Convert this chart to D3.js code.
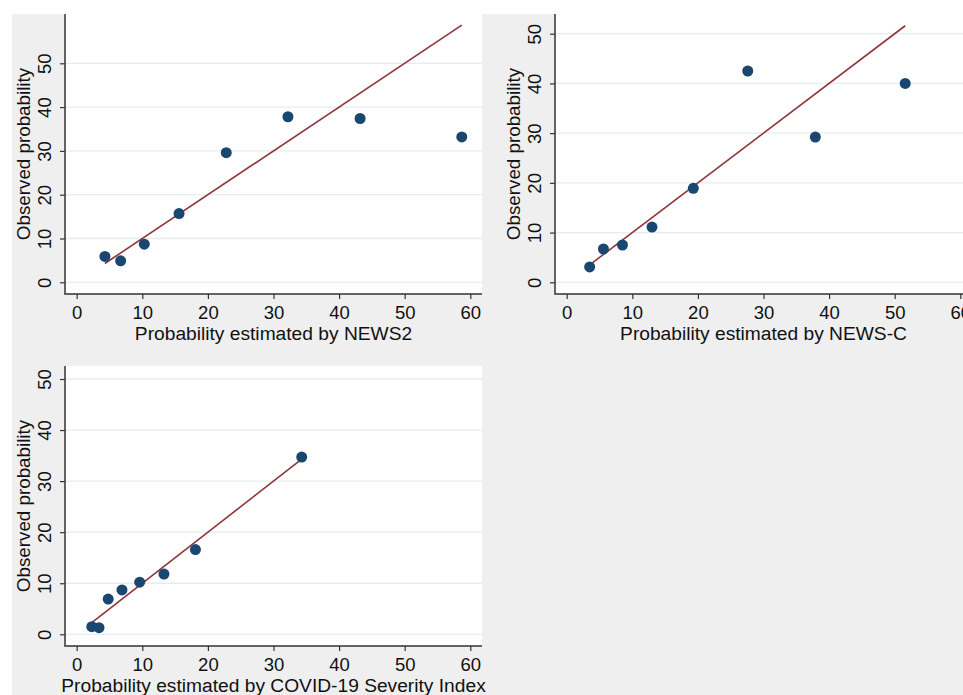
<!DOCTYPE html>
<html>
<head>
<meta charset="utf-8">
<script src="https://cdn.jsdelivr.net/npm/d3@7"></script>
<style>
  body { margin: 0; background: #fff; }
  svg { display: block; font-family: "Liberation Sans", Arial, sans-serif; }
</style>
</head>
<body>
<svg width="963" height="695"></svg>
<script>
// observed vs estimated probability (%)
var news2X = [4.3, 6.7, 10.3, 15.6, 22.8, 32.2, 43.2, 58.7];
var news2Y = [5.9, 4.9, 8.7, 15.7, 29.6, 37.8, 37.4, 33.2];
var newscX = [3.5, 5.6, 8.5, 13.0, 19.3, 27.6, 37.9, 51.6];
var newscY = [3.1, 6.7, 7.5, 11.1, 18.9, 42.5, 29.2, 40.0];
var csiX = [2.3, 3.4, 4.8, 6.9, 9.6, 13.3, 18.1, 34.3];
var csiY = [1.5, 1.3, 6.9, 8.7, 10.2, 11.8, 16.6, 34.7];

var xTicks = [0, 10, 20, 30, 40, 50, 60];
var yTicks = [0, 10, 20, 30, 40, 50];

var xTitles = [
  "Probability estimated by NEWS2",
  "Probability estimated by NEWS-C",
  "Probability estimated by COVID-19 Severity Index"
];
var yTitle = "Observed probability";

var svg = d3.select("svg");

// grey graph region behind all three panels
svg.append("rect")
  .attr("x", 12).attr("y", 14)
  .attr("width", 951).attr("height", 681)
  .attr("fill", "#efefef");

// plot boxes: left, top, pixel row of y=50
var panels = [
  { xs: news2X, ys: news2Y, title: xTitles[0], left: 65, top: 14, y50: 49.3 },
  { xs: newscX, ys: newscY, title: xTitles[1], left: 555, top: 14, y50: 19.7 },
  { xs: csiX, ys: csiY, title: xTitles[2], left: 65, top: 366, y50: 13 }
];
var plotW = 417, plotH = 280;

panels.forEach(function (p) {
  var g = svg.append("g").attr("transform", "translate(" + p.left + "," + p.top + ")");

  var x = d3.scaleLinear().domain([0, 60]).range([11.7, 405.3]);
  var y = d3.scaleLinear().domain([0, 50]).range([268.3, p.y50]);

  g.append("rect")
    .attr("width", plotW).attr("height", plotH)
    .attr("fill", "#fff");

  g.selectAll(".grid")
    .data(yTicks)
    .enter()
    .append("line")
    .attr("class", "grid")
    .attr("x1", 0).attr("x2", plotW)
    .attr("y1", (d) => y(d)).attr("y2", (d) => y(d))
    .attr("stroke", "#e4eef0")
    .attr("stroke-width", 1.3);

  // y = x reference line over the range of estimates
  var ext = d3.extent(p.xs);
  g.append("line")
    .attr("x1", x(ext[0])).attr("y1", y(ext[0]))
    .attr("x2", x(ext[1])).attr("y2", y(ext[1]))
    .attr("stroke", "#90353b")
    .attr("stroke-width", 1.6);

  g.selectAll("circle")
    .data(p.xs)
    .enter()
    .append("circle")
    .attr("cx", (d) => x(d))
    .attr("cy", (d, i) => y(p.ys[i]))
    .attr("r", 5.5)
    .attr("fill", "#1a476f");

  var xAxis = g.append("g")
    .attr("transform", "translate(0," + plotH + ")")
    .call(d3.axisBottom(x).tickValues(xTicks).tickSize(5).tickPadding(7));
  xAxis.select(".domain").remove();
  xAxis.selectAll("line").attr("stroke", "#333").attr("stroke-width", 1.2);
  xAxis.selectAll("text")
    .attr("font-size", 18.5)
    .attr("font-family", "'Liberation Sans', Arial, sans-serif")
    .attr("fill", "#111");

  var yAxis = g.append("g")
    .call(d3.axisLeft(y).tickValues(yTicks).tickSize(5));
  yAxis.select(".domain").remove();
  yAxis.selectAll("line").attr("stroke", "#333").attr("stroke-width", 1.2);
  yAxis.selectAll("text")
    .attr("transform", "rotate(-90)")
    .attr("x", 0)
    .attr("y", -14)
    .attr("dy", 0)
    .attr("text-anchor", "middle")
    .attr("font-size", 18.5)
    .attr("font-family", "'Liberation Sans', Arial, sans-serif")
    .attr("fill", "#111");

  // axis lines along the left and bottom of the plot box
  g.append("path")
    .attr("d", "M0,0V" + plotH + "H" + plotW)
    .attr("fill", "none")
    .attr("stroke", "#333")
    .attr("stroke-width", 1.5);

  g.append("text")
    .attr("x", plotW / 2)
    .attr("y", plotH + 46)
    .attr("text-anchor", "middle")
    .attr("font-size", 19.2)
    .attr("fill", "#111")
    .text(p.title);

  g.append("text")
    .attr("transform", "translate(-35.5," + plotH / 2 + ") rotate(-90)")
    .attr("text-anchor", "middle")
    .attr("font-size", 18.8)
    .attr("fill", "#111")
    .text(yTitle);
});
</script>
</body>
</html>
